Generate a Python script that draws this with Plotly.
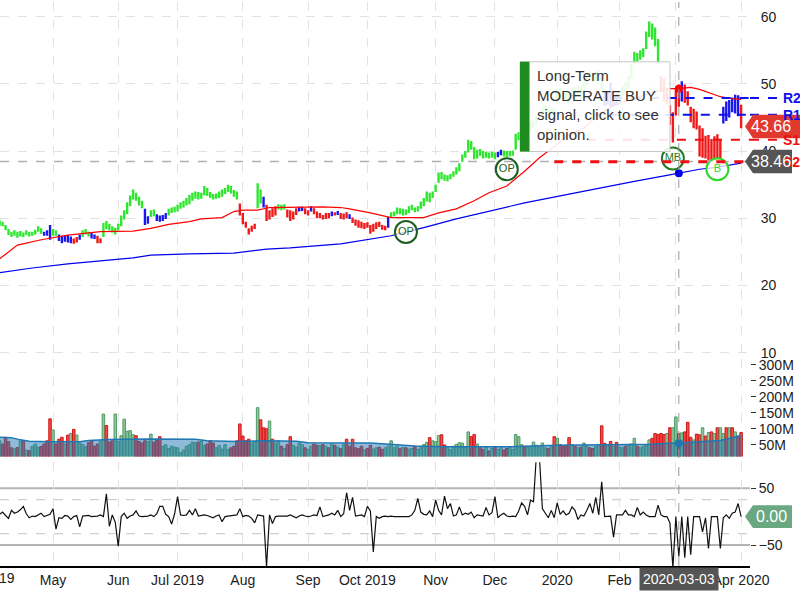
import numpy as np
import pandas as pd
import plotly.graph_objects as go

# ---------------- data ----------------
holidays = ["2019-04-19", "2019-05-27", "2019-07-04", "2019-09-02", "2019-11-28",
            "2019-12-25", "2020-01-01", "2020-01-20", "2020-02-17"]
dates = [d.strftime("%Y-%m-%d") for d in pd.bdate_range("2019-04-04", "2020-04-01")
         if d.strftime("%Y-%m-%d") not in holidays]

highs = [
    29.7, 29.5, 29.0, 28.4, 28.0, 28.2, 28.0, 28.1, 27.9, 28.2, 28.0, 28.0, 28.3, 28.8, 28.5, 28.0, 28.2, 29.0,
    28.4, 28.2, 27.6, 27.4, 27.4, 27.5, 27.3, 27.0, 27.2, 27.6, 28.2, 28.4, 28.0, 27.8, 27.6, 27.4, 27.0, 29.3, 29.6, 29.2, 28.8, 28.6,
    29.2, 30.4, 31.2, 32.4, 33.4, 34.3, 33.8, 33.2, 32.6, 31.4, 30.3, 31.2, 31.3, 30.6, 30.4, 30.5, 30.8, 31.4, 31.6, 31.7,
    32.0, 32.4, 32.6, 33.0, 33.5, 33.8, 34.0, 33.9, 33.8, 34.8, 34.5, 33.9, 33.6, 33.7, 34.0, 34.3, 34.5, 35.0, 34.8, 34.2, 34.0, 32.2,
    30.8, 29.5, 28.5, 28.9, 29.2, 35.2, 34.3, 33.2, 32.0, 31.2, 31.5, 31.8, 32.1, 32.0, 32.1, 31.3, 31.2, 31.0, 31.5, 31.7, 31.7, 31.5,
    31.2, 31.8, 31.5, 31.0, 30.8, 30.5, 30.8, 30.8, 31.0, 30.9, 31.1, 30.8, 30.7, 30.9, 30.6, 30.1, 29.8, 29.7, 29.5, 29.3,
    29.4, 29.0, 29.2, 29.4, 29.5, 29.0, 28.9, 30.2, 30.9, 31.0, 31.6, 31.5, 31.4, 31.3, 31.8, 32.0, 31.6, 31.8, 32.5, 33.0, 34.0, 33.8, 34.0,
    35.0, 36.8, 36.9, 36.5, 36.4, 36.6, 37.0, 37.6, 38.2, 39.5, 40.0, 41.7, 41.5, 40.6, 40.2, 40.3, 40.0, 39.9, 39.8, 39.9,
    39.8, 39.9, 40.2, 40.1, 40.0, 40.0, 40.1, 42.6, 42.8, 43.0, 42.9, 43.5, 44.2, 44.5, 45.2, 45.8, 46.4, 46.8, 46.5, 46.4, 46.3,
    49.3, 49.4, 48.9, 49.0, 48.6, 49.4, 49.5, 49.7, 49.6, 50.2, 51.6, 51.8, 51.5, 51.8, 52.0, 51.2, 48.9, 48.8, 50.2, 48.2, 48.5,
    48.5, 49.8, 50.2, 51.2, 53.0, 54.8, 54.6, 55.0, 55.3, 57.8, 59.3, 59.0, 58.4, 56.7, 51.2, 50.8, 49.3, 46.8, 45.8,
    49.2, 49.9, 50.4, 49.9, 48.9, 46.6, 46.3, 45.9, 43.8, 43.4, 42.3, 42.4, 41.8, 42.2, 42.5, 41.8, 46.6, 47.4, 47.6, 48.0, 48.4, 48.3,
    46.9,
]
lows = [
    28.9, 28.8, 28.2, 27.5, 27.2, 27.4, 27.1, 27.3, 27.2, 27.5, 27.3, 27.4, 27.6, 28.0, 27.7, 27.4, 27.4, 26.8,
    27.4, 27.4, 26.6, 26.3, 26.5, 26.4, 26.3, 26.2, 26.4, 26.8, 27.2, 27.6, 27.3, 27.0, 26.9, 26.3, 26.3, 27.2, 28.4, 28.2, 27.9, 27.6,
    28.2, 28.8, 29.8, 30.6, 31.8, 32.8, 32.6, 31.9, 31.5, 29.0, 29.2, 30.2, 30.3, 29.6, 29.5, 29.6, 29.9, 30.4, 30.8, 30.9,
    31.0, 31.4, 31.6, 31.9, 32.1, 32.6, 32.9, 32.8, 32.9, 33.4, 33.3, 33.0, 32.8, 32.9, 33.0, 33.2, 33.6, 33.9, 33.7, 33.2, 32.8, 30.4,
    29.1, 28.6, 27.6, 28.0, 28.4, 31.5, 32.2, 31.6, 29.6, 29.8, 30.2, 30.4, 31.3, 31.2, 31.3, 30.1, 29.6, 29.8, 30.5, 31.0, 31.1, 30.6,
    30.4, 31.0, 30.6, 30.0, 30.0, 29.8, 29.9, 30.0, 30.3, 30.4, 30.5, 29.9, 29.8, 30.0, 29.9, 29.3, 28.9, 28.6, 28.5, 28.4,
    28.6, 27.7, 28.0, 28.4, 28.7, 28.3, 28.2, 28.6, 30.1, 30.3, 30.6, 30.6, 30.4, 30.5, 30.8, 31.2, 30.9, 31.0, 31.4, 31.8, 32.5, 32.4, 33.0,
    33.9, 35.3, 35.8, 35.6, 35.5, 35.8, 36.2, 36.5, 37.0, 38.4, 39.0, 39.8, 40.2, 38.8, 38.9, 39.3, 38.9, 39.0, 38.9, 39.0,
    38.8, 39.1, 39.4, 39.2, 39.1, 39.2, 39.3, 40.2, 41.6, 41.8, 41.5, 42.2, 42.9, 43.5, 43.9, 44.6, 45.3, 45.6, 45.4, 45.3, 45.2,
    47.0, 47.6, 47.5, 47.8, 47.2, 48.0, 47.9, 48.1, 48.0, 48.6, 49.9, 50.8, 50.2, 50.5, 50.6, 48.9, 46.7, 46.9, 46.6, 46.6, 46.8,
    46.9, 48.2, 48.8, 49.3, 50.8, 52.9, 53.3, 53.6, 54.0, 55.2, 57.0, 56.6, 55.6, 53.0, 48.8, 47.4, 47.0, 43.9, 41.3,
    45.3, 46.6, 47.4, 47.2, 46.8, 44.3, 43.4, 43.2, 39.2, 39.0, 38.9, 38.6, 38.5, 38.6, 38.6, 38.8, 44.1, 44.5, 45.0, 45.8, 45.6, 45.2,
    43.4,
]
closes = [
    29.2, 29.0, 28.5, 27.7, 27.6, 27.9, 27.4, 27.8, 27.5, 27.9, 27.6, 27.8, 28.1, 28.4, 27.9, 27.7, 27.6, 27.0,
    27.8, 27.6, 26.9, 26.7, 27.0, 26.6, 27.0, 26.4, 26.9, 27.4, 27.9, 28.1, 27.6, 27.3, 27.2, 26.6, 26.8, 29.0, 28.8, 28.5, 28.1, 28.3,
    28.9, 30.2, 31.0, 32.2, 32.9, 33.8, 33.0, 32.3, 31.8, 29.4, 30.0, 30.9, 30.6, 29.9, 29.8, 30.2, 30.5, 31.1, 31.2, 31.5,
    31.7, 32.1, 32.2, 32.7, 33.2, 33.4, 33.6, 33.1, 33.5, 34.4, 33.7, 33.2, 33.1, 33.4, 33.7, 34.0, 34.2, 34.6, 34.0, 33.6, 33.1, 30.6,
    29.4, 28.8, 28.0, 28.6, 29.0, 34.4, 33.0, 32.0, 30.1, 30.9, 30.6, 31.5, 31.8, 31.5, 31.9, 30.4, 30.0, 30.7, 31.3, 31.4, 31.5, 30.9,
    31.0, 31.6, 30.8, 30.3, 30.4, 30.0, 30.6, 30.2, 30.8, 30.7, 30.9, 30.2, 30.5, 30.3, 30.2, 29.5, 29.2, 29.0, 28.8, 29.0,
    28.8, 28.0, 28.9, 29.1, 28.9, 28.5, 28.6, 30.0, 30.7, 30.8, 31.4, 30.9, 31.2, 30.8, 31.5, 31.8, 31.3, 31.5, 32.2, 32.7, 33.6, 33.0, 33.9,
    34.9, 36.5, 36.2, 35.9, 36.0, 36.3, 36.8, 37.3, 38.0, 39.2, 39.6, 41.2, 40.6, 39.2, 39.8, 39.5, 39.4, 39.6, 39.2, 39.5,
    39.0, 39.6, 39.8, 39.5, 39.4, 39.7, 39.9, 42.2, 42.3, 42.5, 42.0, 43.2, 43.8, 44.1, 44.9, 45.5, 46.1, 46.2, 45.8, 46.0, 45.9,
    49.1, 48.6, 48.4, 48.2, 47.8, 49.0, 48.2, 49.4, 48.4, 49.9, 51.4, 51.2, 50.8, 51.3, 51.5, 49.2, 47.3, 48.6, 47.5, 47.8, 47.0,
    48.0, 49.5, 49.4, 50.9, 52.8, 54.3, 53.7, 54.7, 55.0, 57.5, 58.9, 57.2, 56.0, 53.3, 49.1, 47.8, 47.9, 44.3, 45.5,
    48.9, 47.5, 50.1, 48.0, 47.9, 44.6, 46.0, 43.6, 39.5, 43.0, 39.1, 42.0, 39.2, 41.5, 39.3, 39.9, 46.3, 45.5, 47.3, 46.1, 47.9, 45.5,
    43.66,
]
# bar signal colour: g = bullish, r = bearish, b = neutral  (run-length: code, number of bars)
bar_color_runs = [("g", 15), ("b", 3), ("g", 2), ("b", 5), ("r", 2), ("b", 1), ("g", 3), ("b", 2), ("r", 2),
                  ("g", 14), ("b", 2), ("g", 2), ("b", 4), ("g", 24), ("r", 6), ("g", 2), ("b", 1), ("r", 4),
                  ("g", 3), ("r", 4), ("b", 2), ("r", 2), ("b", 1), ("r", 6), ("b", 1), ("r", 1), ("b", 1),
                  ("r", 3), ("b", 1), ("r", 12), ("b", 1), ("g", 36), ("b", 2), ("g", 34), ("b", 5), ("g", 14),
                  ("r", 7), ("b", 1), ("r", 13), ("b", 6), ("r", 1)]

volume_m = [
    62, 52, 73, 59, 40, 37, 41, 62, 62, 33, 31, 44, 52, 42, 44, 52, 62, 131,
    96, 52, 67, 73, 52, 80, 85, 98, 80, 55, 50, 44, 56, 62, 45, 52, 60, 146, 110, 58, 62, 146,
    60, 78, 130, 92, 94, 81, 78, 60, 55, 62, 60, 83, 58, 63, 75, 45, 50, 38, 45, 42,
    40, 25, 33, 45, 50, 58, 56, 58, 60, 48, 52, 63, 55, 40, 47, 36, 50, 34, 40, 45, 62, 115,
    77, 62, 67, 55, 60, 166, 128, 103, 100, 124, 67, 55, 62, 45, 38, 50, 75, 48, 42, 55, 50, 40,
    35, 45, 52, 48, 47, 50, 45, 40, 52, 48, 42, 38, 50, 67, 45, 67, 40, 37, 45, 33,
    38, 48, 36, 40, 42, 35, 40, 45, 62, 40, 45, 38, 42, 40, 36, 38, 45, 35, 40, 50, 57, 72, 62,
    60, 79, 81, 49, 40, 35, 45, 51, 56, 55, 42, 90, 75, 82, 52, 40, 35, 42, 30, 38,
    42, 35, 40, 33, 38, 42, 35, 82, 75, 50, 45, 42, 45, 58, 48, 42, 55, 40, 38, 45, 75,
    70, 50, 45, 48, 72, 50, 45, 40, 42, 55, 45, 40, 38, 45, 48, 109, 54, 50, 60, 45, 57,
    42, 40, 45, 48, 52, 70, 45, 40, 45, 48, 65, 70, 85, 82, 85, 82, 85, 103, 103,
    137, 85, 87, 90, 120, 73, 65, 83, 81, 103, 77, 88, 90, 85, 103, 103, 85, 103, 103, 103, 90, 77,
    88,
]
oscillator = [
    4, 8, 2, -3, 11, 6, 8, 12, 18, 5,
    -2, 1, 0, 3, 6, 0, 2, 4, 14, -22,
    -2, -3, 2, 1, -5, 0, 2, -18, 1, 1,
    2, 0, 0, 1, 3, 0, 40, -17, 3, -10,
    -52, 0, 6, -3, 1, 3, 10, 1, 0, 0,
    1, 3, 0, 5, 18, 18, 4, 0, -13, 5,
    35, 3, 2, 3, 11, 3, 14, 1, 2, 3,
    2, 0, -2, 1, 3, -9, 0, 1, 2, 3,
    3, 14, 0, 2, 1, -3, -11, 3, 2, 1,
    -88, 3, -12, 0, 1, 1, 2, 1, 3, 1,
    -2, 1, 3, 1, 0, 1, 3, 2, 17, 0,
    1, 3, 6, 3, 11, 0, 5, 42, 11, 34,
    1, 2, 3, 0, 18, 10, -62, 0, -3, 0,
    1, 0, 1, 0, 0, 1, 0, 1, 0, 3,
    11, 32, 8, 4, 3, 10, 0, 29, 11, 3,
    36, 14, 23, 1, 3, 17, 3, 6, 4, 8,
    -2, 3, 2, 1, 16, 3, 7, 35, -2, 3,
    6, 1, 0, 1, 0, 10, 24, 18, 3, 29,
    26, 110, 105, 14, 6, -2, 11, -2, 24, 4,
    10, 3, 6, 17, 11, -5, 3, 1, 11, 23,
    6, 34, 3, 61, 0, 1, 1, -36, 3, 3,
    3, 11, 3, 3, 0, 16, 3, 8, 3, 0,
    0, 0, 20, 3, 0, 0, -11, -90, 0, -70,
    0, -72, 0, -67, 0, 0, 0, -27, -2, -56,
    0, 0, 0, -56, -2, 3, -3, 6, 8, 23,
    0,
]

# moving averages read at sample bars (bar index, value)
ma50_idx = [0, 6, 14, 23, 34, 45, 51, 57, 64, 68, 75, 79, 82, 87, 91, 109, 115, 118, 125, 132,
            143, 148, 154, 160, 165, 171, 177, 182, 188, 191, 197, 202, 208, 214, 219, 225, 229,
            233, 236, 240, 243, 247, 250]
ma50 = [23.95, 26.0, 26.8, 27.5, 28.0, 28.1, 28.5, 29.1, 29.5, 29.9, 30.1, 31.0, 31.2, 31.2, 31.6,
        31.7, 31.6, 31.4, 30.8, 30.1, 30.1, 30.8, 31.4, 32.6, 33.8, 34.8, 37.0, 39.0, 41.0, 42.2,
        43.4, 45.5, 47.0, 47.8, 48.6, 49.3, 49.3, 49.5, 49.2, 48.6, 48.1, 47.8, 47.7]
ma200_idx = [0, 11, 23, 34, 45, 51, 64, 79, 90, 98, 115, 132, 136, 143, 154, 165, 177, 192, 202,
             214, 225, 229, 236, 242, 247, 250]
ma200 = [21.9, 22.6, 23.2, 23.65, 24.1, 24.5, 24.7, 24.8, 25.4, 25.6, 26.2, 27.4, 27.8, 28.6, 29.9,
         31.1, 32.3, 33.6, 34.5, 35.5, 36.4, 36.7, 37.3, 37.6, 38.0, 38.2]
volma_idx = [0, 4, 7, 10, 17, 27, 30, 37, 50, 66, 70, 80, 90, 100, 104, 125, 134, 140, 150, 172,
             188, 204, 220, 226, 229, 243, 250]
volma_m = [73, 72, 65, 61, 59, 59, 63, 66, 68, 67, 62, 60, 62, 61, 56, 55, 50, 46, 43, 43, 48, 49,
           51, 54, 55, 63, 78]

# signals
sig_idx = [137, 171, 227, 242]
sig_price = [27.95, 37.3, 38.9, 37.3]
sig_text = ["OP", "OP", "MB", "B"]
sig_color = ["#1b5e20", "#1b5e20", "#237a23", "#2bd92b"]

# support / resistance levels
level_names = ["R2", "R1", "S1", "S2"]
level_values = [47.9, 45.4, 41.7, 38.4]
level_start = [207, 200, 198, 187]
level_colors = ["#1010ee", "#1010ee", "#ee1010", "#ee1010"]
level_widths = [2, 2, 2, 3]

cross_date = "2020-03-03"
cross_price = 38.46

tick_dates = ["2019-05-01", "2019-06-03", "2019-07-01", "2019-08-01", "2019-09-03", "2019-10-01",
              "2019-11-01", "2019-12-02", "2020-01-02", "2020-02-03", "2020-03-02", "2020-04-01"]
# the March label sits under the crosshair date box, so it is left blank
tick_labels = ["May", "Jun", "Jul 2019", "Aug", "Sep", "Oct 2019", "Nov", "Dec", "2020", "Feb",
               "", "Apr 2020"]
first_label_fragment = "19"   # visible tail of the "Apr 2019" label at the left edge

popup_lines = ["Long-Term", "MODERATE BUY", "signal, click to see", "opinion."]

# ---------------- figure ----------------
bar_codes = [c for c, n in bar_color_runs for _ in range(n)]
assert len(dates) == len(highs) == len(lows) == len(closes) == len(bar_codes) == len(volume_m) == len(oscillator)

FONT = "Arial, Liberation Sans, sans-serif"
cmap = {"g": "#2ee62e", "r": "#f01818", "b": "#1818ee"}
x_lo, x_hi = 0.13, 253.0

fig = go.Figure()

# volume bars
up = [True] + [closes[i] >= closes[i - 1] for i in range(1, len(closes))]
fig.add_trace(go.Bar(
    x=dates, y=[v * 1e6 for v in volume_m], yaxis="y2", width=0.85,
    marker=dict(color=["#8fc79a" if u else "#ff4545" for u in up],
                line=dict(color=["#4f9a68" if u else "#c81a1a" for u in up], width=1)),
    hoverinfo="skip"))
# volume moving average area
fig.add_trace(go.Scatter(
    x=[dates[i] for i in volma_idx], y=[v * 1e6 for v in volma_m], yaxis="y2",
    mode="lines", fill="tozeroy", fillcolor="rgba(31,119,180,0.5)",
    line=dict(color="#1f77b4", width=1.5), hoverinfo="skip"))

# price bars (high-low)
fig.add_trace(go.Bar(
    x=dates, y=[h - l for h, l in zip(highs, lows)], base=lows, yaxis="y", width=0.8,
    marker=dict(color=[cmap[c] for c in bar_codes], line=dict(width=0)), hoverinfo="skip"))

# moving averages
fig.add_trace(go.Scatter(x=[dates[i] for i in ma50_idx], y=ma50, yaxis="y", mode="lines",
                         line=dict(color="#ff0000", width=1.2), hoverinfo="skip"))
fig.add_trace(go.Scatter(x=[dates[i] for i in ma200_idx], y=ma200, yaxis="y", mode="lines",
                         line=dict(color="#0000ee", width=1.2), hoverinfo="skip"))

# oscillator
fig.add_trace(go.Scatter(x=dates, y=oscillator, yaxis="y3", mode="lines",
                         line=dict(color="#111111", width=1.2), hoverinfo="skip"))

# crosshair points
ci = dates.index(cross_date)
fig.add_trace(go.Scatter(x=[cross_date], y=[ma50[ma50_idx.index(ci)]], yaxis="y", mode="markers",
                         marker=dict(color="#ff0000", size=8)))
fig.add_trace(go.Scatter(x=[cross_date], y=[ma200[ma200_idx.index(ci)]], yaxis="y", mode="markers",
                         marker=dict(color="#0000ee", size=8)))
fig.add_trace(go.Scatter(x=[cross_date], y=[volma_m[volma_idx.index(ci)] * 1e6], yaxis="y2",
                         mode="markers", marker=dict(color="#1f77b4", size=8)))

# signal circles
fig.add_trace(go.Scatter(
    x=[dates[i] for i in sig_idx], y=sig_price, yaxis="y", mode="markers+text",
    text=sig_text, textposition="middle center",
    textfont=dict(family=FONT, size=11, color=sig_color),
    marker=dict(size=22, color="rgba(255,255,255,0.75)", line=dict(color=sig_color, width=2)),
    hoverinfo="skip"))

shapes = []
annotations = []

# crosshair lines
shapes.append(dict(type="line", xref="paper", x0=0, x1=1, yref="y", y0=cross_price, y1=cross_price,
                   line=dict(color="#b0b0b0", width=1.5, dash="dash")))
shapes.append(dict(type="line", xref="x", x0=cross_date, x1=cross_date, yref="paper", y0=0, y1=1,
                   line=dict(color="#999999", width=1, dash="dash")))

# oscillator reference lines
for v, col, w, d in [(50, "#b4b4b4", 2, "solid"), (-50, "#b4b4b4", 2, "solid"),
                     (30, "#cfcfcf", 1.2, "dash"), (-30, "#cfcfcf", 1.2, "dash")]:
    shapes.append(dict(type="line", layer="below", xref="paper", x0=0, x1=1, yref="y3", y0=v, y1=v,
                       line=dict(color=col, width=w, dash=d)))

# support / resistance lines
for name, v, s, col, w in zip(level_names, level_values, level_start, level_colors, level_widths):
    shapes.append(dict(type="line", xref="x", x0=dates[s], x1=x_hi, yref="y", y0=v, y1=v,
                       line=dict(color=col, width=w, dash="dash")))
    shapes.append(dict(type="line", xref="paper", x0=1.0, x1=1.04, yref="y", y0=v, y1=v,
                       line=dict(color=col, width=w, dash="dash")))
    annotations.append(dict(xref="paper", x=1.041, yref="y", y=v, xanchor="left", yanchor="middle",
                            text="<b>%s</b>" % name, showarrow=False,
                            font=dict(family=FONT, size=14, color=col)))

# popup
py0, py1 = (566 - 150) / 566, (566 - 60) / 566
shapes.append(dict(type="rect", xref="paper", yref="paper", x0=520 / 750, x1=670 / 750, y0=py0, y1=py1,
                   fillcolor="rgba(255,255,255,0.88)", line=dict(color="#c6c6c6", width=1)))
shapes.append(dict(type="rect", xref="paper", yref="paper", x0=520 / 750, x1=529.5 / 750, y0=py0, y1=py1,
                   fillcolor="#1e8c1e", line=dict(width=0)))
annotations.append(dict(xref="paper", yref="paper", x=535 / 750, y=(566 - 63) / 566,
                        xanchor="left", yanchor="top", align="left", showarrow=False,
                        text="<br>".join(popup_lines),
                        font=dict(family=FONT, size=15, color="#333333")))


# value tags (pentagons pointing left)
def tag(yref, v, half, fill, label, right):
    path = ("M 0.9933,{v} L 1.004,{a} L {r},{a} L {r},{b} L 1.004,{b} Z"
            .format(v=v, a=v + half, b=v - half, r=right))
    shapes.append(dict(type="path", xref="paper", yref=yref, path=path, fillcolor=fill,
                       line=dict(width=0)))
    annotations.append(dict(xref="paper", x=1.028, yref=yref, y=v, xanchor="center",
                            yanchor="middle", text=label, showarrow=False,
                            font=dict(family=FONT, size=16, color="white")))


tag("y", closes[-1], 1.75, "#e2392f", "%.2f" % closes[-1], 1.07)
tag("y", cross_price, 1.75, "#555555", "%.2f" % cross_price, 1.056)
tag("y3", oscillator[-1], 20, "#6aa882", "%.2f" % oscillator[-1], 1.056)

# crosshair date label
annotations.append(dict(xref="x", x=cross_date, yref="paper", y=0, yanchor="top", yshift=-1,
                        text=cross_date, showarrow=False, bgcolor="#555555", borderpad=3,
                        font=dict(family=FONT, size=14, color="white")))
# visible tail of the first month label at the left edge
annotations.append(dict(xref="paper", x=17 / 750, yref="paper", y=0, xanchor="right",
                        yanchor="top", yshift=-2, text=first_label_fragment, showarrow=False,
                        font=dict(family=FONT, size=14, color="#222222")))

fig.update_layout(
    width=800, height=600,
    margin=dict(l=0, r=50, t=0, b=34),
    plot_bgcolor="white", paper_bgcolor="white",
    showlegend=False, barmode="overlay", hovermode=False,
    font=dict(family=FONT, size=14, color="#222222"),
    shapes=shapes, annotations=annotations,
    xaxis=dict(type="category", categoryorder="array", categoryarray=dates,
               range=[x_lo, x_hi], tickmode="array", tickvals=tick_dates, ticktext=tick_labels,
               showgrid=True, gridcolor="#e2e2e2", griddash="dash", gridwidth=1,
               showline=True, linecolor="#000000", linewidth=2, anchor="y3", ticks="",
               tickfont=dict(family=FONT, size=14, color="#222222")),
    yaxis=dict(domain=[0.373, 1], range=[9.55, 62.2], side="right", anchor="x",
               tickvals=[10, 20, 30, 40, 50, 60], showgrid=True, gridcolor="#e2e2e2",
               griddash="dash", zeroline=False, ticks="outside", ticklen=7,
               tickcolor="rgba(0,0,0,0)", tickfont=dict(family=FONT, size=14, color="#222222")),
    yaxis2=dict(domain=[0.194, 0.367], range=[12.5e6, 318.75e6], side="right", anchor="x",
                tickvals=[50e6, 100e6, 150e6, 200e6, 250e6, 300e6], tickformat="~s",
                ticks="outside", ticklen=5, tickcolor="#333333", showgrid=False, zeroline=False,
                tickfont=dict(family=FONT, size=14, color="#222222")),
    yaxis3=dict(domain=[0, 0.184], range=[-86.8, 95.6], side="right", anchor="x",
                tickvals=[-50, 50], ticks="outside", ticklen=5, tickcolor="#333333",
                showgrid=False, zeroline=False,
                tickfont=dict(family=FONT, size=14, color="#222222")),
)

# the page body's default 8px margin would offset the 800x600 figure inside the window
fig.write_html("out.html", config={"displayModeBar": False},
               post_script="document.body.style.margin='0px';"
                           "document.body.style.overflow='hidden';")
